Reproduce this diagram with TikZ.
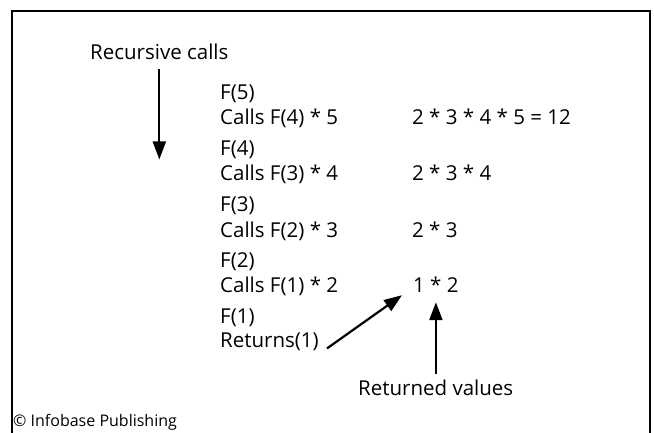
\documentclass[tikz,border=0pt]{standalone}
\usepackage{fontspec}
\setmainfont{Open Sans}
\usetikzlibrary{positioning,arrows.meta,calc}

\begin{document}
\begin{tikzpicture}[x=1pt, y=-1pt,
  txt/.style={anchor=base west, inner sep=0pt, font=\fontsize{20.5}{24}\selectfont},
  arr/.style={-{Triangle[length=18pt, width=13pt]}, line width=2.2pt}
]
\useasboundingbox (0,0) rectangle (654,433);
\draw[line width=1.4pt] (12,433) -- (12,11) -- (650,11) -- (650,433);

\node[txt] (rec) at (90,60) {Recursive calls};

% left column
\node[txt] (f5) at (220,100) {F(5)};
\node[txt] (c5) at (220,125) {Calls F(4) * 5};
\node[txt] (f4) at (220,156) {F(4)};
\node[txt] (c4) at (220,181) {Calls F(3) * 4};
\node[txt] (f3) at (220,212) {F(3)};
\node[txt] (c3) at (220,237) {Calls F(2) * 3};
\node[txt] (f2) at (220,268) {F(2)};
\node[txt] (c2) at (220,292) {Calls F(1) * 2};
\node[txt] (f1) at (220,323) {F(1)};
\node[txt] (ret1) at (220,347) {Returns(1)};

% right column
\node[txt] (r5) at (412,125) {2 * 3 * 4 * 5 = 12};
\node[txt] (r4) at (412,181) {2 * 3 * 4};
\node[txt] (r3) at (412,237) {2 * 3};
\node[txt] (r2) at (413,292) {1 * 2};

\node[txt] (retv) at (358,395) {Returned values};
\node[txt, font=\fontsize{16}{18}\selectfont] (copy) at (13,426) {© Infobase Publishing};

\coordinate (downend) at (rec.south |- f4.south);
\draw[arr] ([yshift=-9pt]rec.south) -- (downend);
\draw[arr] ($(ret1.south east)+(8,-2)$) -- ($(r2.south west)+(-11,3)$);
\draw[arr] ([yshift=5pt]r2.south |- retv.north) -- ([yshift=-10pt]r2.south);
\end{tikzpicture}
\end{document}
